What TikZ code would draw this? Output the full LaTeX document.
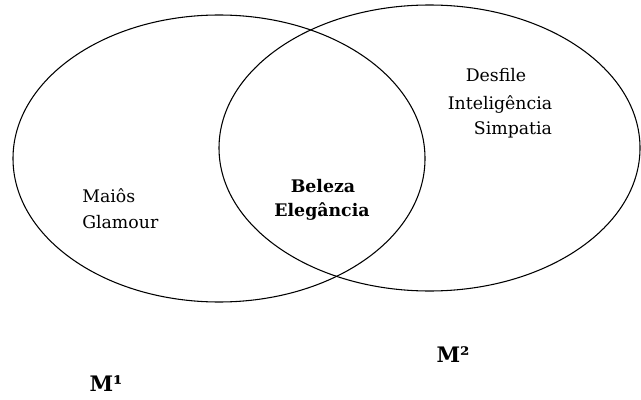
\documentclass[tikz,border=0pt]{standalone}
\usepackage{fontspec}
\setmainfont{DejaVu Serif}
\begin{document}
\begin{tikzpicture}[x=0.75pt,y=-0.75pt,
  setline/.style={draw=black,line width=0.8pt},
  lbl/.style={font=\fontsize{13}{15}\selectfont,inner sep=0pt},
  lblb/.style={font=\fontsize{13}{15}\selectfont\bfseries,inner sep=0pt},
  setname/.style={font=\fontsize{16}{18}\selectfont\bfseries,inner sep=0pt}]
\useasboundingbox (0,0) rectangle (641,399);
% the two sets
\draw[setline] (219,158.5) ellipse [x radius=206, y radius=143.5];
\draw[setline] (429.5,148) ellipse [x radius=210.5, y radius=143];
% elements only in M1
\node[lbl,anchor=west] (mai) at (82,196) {Maiôs};
\node[lbl,anchor=west] (gla) at (82,222) {Glamour};
% elements in both sets
\node[lblb] (bel) at (323,186) {Beleza};
\node[lblb] (ele) at (322,211) {Elegância};
% elements only in M2
\node[lbl] (des) at (496,75) {Desfile};
\node[lbl] (int) at (500,104) {Inteligência};
\node[lbl] (sim) at (513,130) {Simpatia};
% set names
\node[setname] (m1) at (106,384) {M¹};
\node[setname] (m2) at (453,355) {M²};
\end{tikzpicture}
\end{document}
